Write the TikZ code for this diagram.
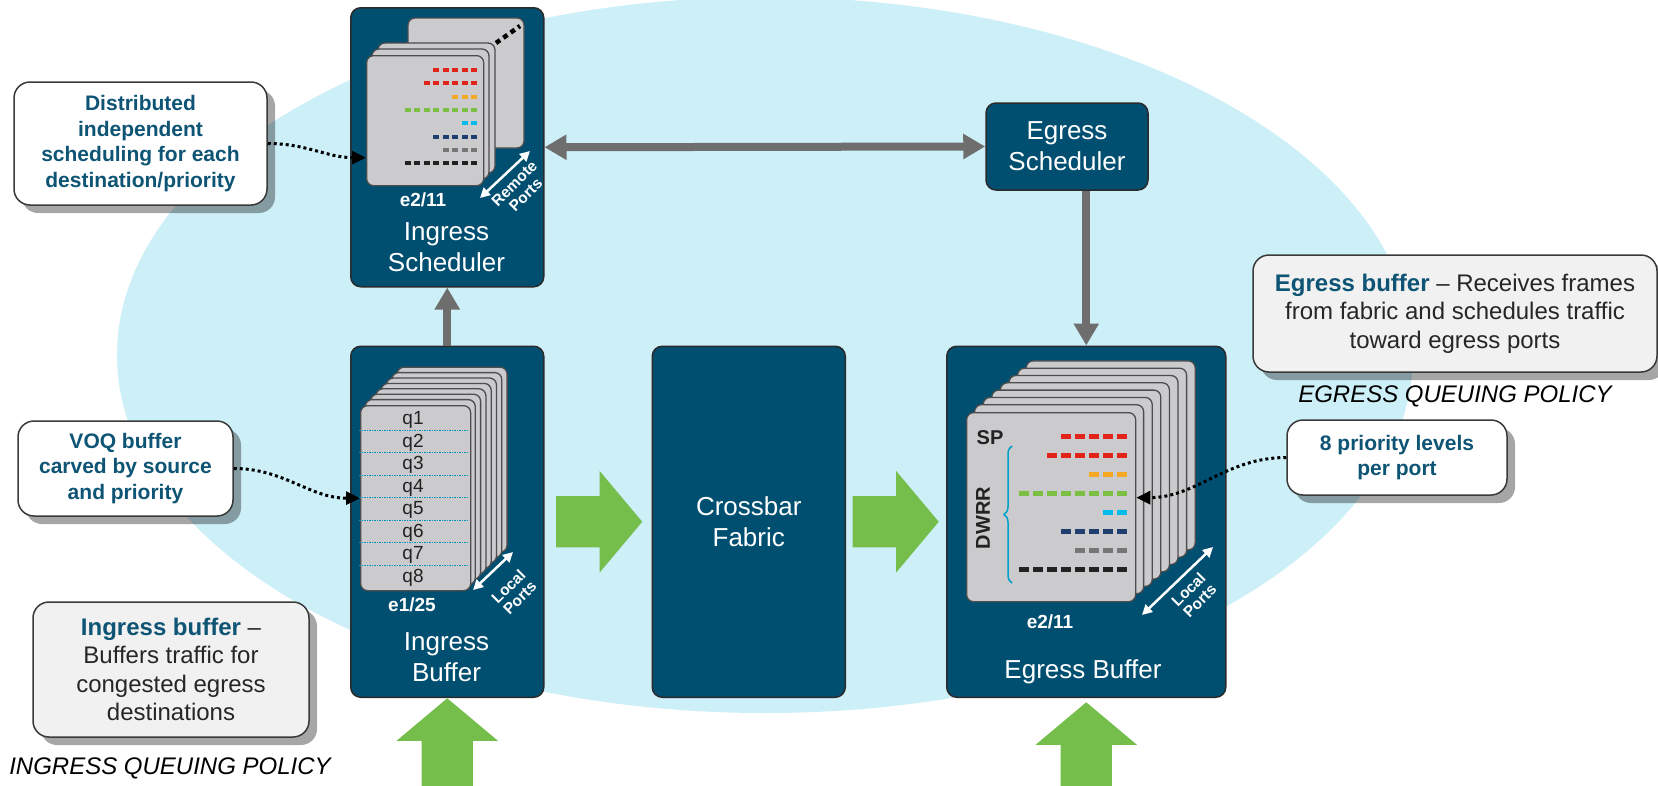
\documentclass[tikz,border=0pt]{standalone}
\usepackage{fontspec}
\setmainfont{Liberation Sans}
\usetikzlibrary{calc,positioning,arrows.meta,shapes.arrows,shadows,decorations.pathreplacing}

\definecolor{skyblue}{HTML}{CCEFF8}
\definecolor{boxblue}{HTML}{004F71}
\definecolor{boxline}{HTML}{2B2B2B}
\definecolor{cardgray}{HTML}{CBCBCE}
\definecolor{cardline}{HTML}{4D4D4D}
\definecolor{pipegray}{HTML}{6E6E6E}
\definecolor{flowgreen}{RGB}{118,190,75}
\definecolor{noteblue}{HTML}{0E5474}
\definecolor{noteline}{HTML}{3A3A3A}
\definecolor{notegray}{HTML}{F1F1F1}
\definecolor{notetext}{HTML}{262626}
\definecolor{dred}{HTML}{E2231A}
\definecolor{dorange}{HTML}{F7A823}
\definecolor{dgreen}{HTML}{7CC043}
\definecolor{dcyan}{HTML}{00BCEB}
\definecolor{dnavy}{HTML}{1F3F6F}
\definecolor{dgray}{HTML}{767676}
\definecolor{dblack}{HTML}{222222}

\begin{document}
\begin{tikzpicture}[x=1pt,y=-1pt,
    blk/.style={draw=boxline,line width=1.5pt,fill=boxblue,rounded corners=10pt,inner sep=0pt},
    card/.style={draw=cardline,line width=1.3pt,fill=cardgray,rounded corners=7pt,inner sep=0pt},
    lbl/.style={text=white,font=\fontsize{26}{31}\selectfont,align=center},
    tag/.style={text=white,font=\bfseries\fontsize{19}{22}\selectfont},
    ports/.style={text=white,font=\bfseries\fontsize{15.5}{16}\selectfont,align=center,rotate=45},
    portarrow/.style={white,line width=2.5pt,>={Triangle[length=10pt,width=10pt]}},
    qtext/.style={text=dblack,font=\fontsize{19}{22}\selectfont},
    sep/.style={dcyan!80!black,line width=.8pt,dash pattern=on 1.5pt off 1pt},
    dark/.style={text=dblack,font=\bfseries\fontsize{20}{22}\selectfont},
    note/.style={draw=noteline,line width=1.5pt,fill=white,rounded corners=16pt,align=center,
        text=noteblue,font=\bfseries\fontsize{21}{25.5}\selectfont,
        drop shadow={shadow xshift=8pt,shadow yshift=-8pt,opacity=.35,fill=black}},
    gnote/.style={note,fill=notegray,text=notetext,font=\fontsize{24}{28.5}\selectfont},
    policy/.style={font=\itshape\fontsize{24}{28}\selectfont},
    pipe/.style={draw=pipegray,line width=8pt,>={Triangle[length=22pt,width=24pt]}},
    hint/.style={line width=3pt,dash pattern=on 3pt off 3pt,->,>={Triangle[length=14pt,width=13pt]}},
    flow/.style={single arrow,fill=flowgreen,draw=none,inner xsep=0pt,inner ysep=25.5pt,anchor=tip,
        minimum width=101pt,single arrow head extend=25pt,single arrow tip angle=100}]

    \useasboundingbox (0,0) rectangle (1658,785);
    \clip (0,0) rectangle (1658,785);
    \fill[white] (0,0) rectangle (1658,785);
    \fill[skyblue] (765,355) ellipse [x radius=648pt,y radius=358pt];

    \node[blk,minimum width=193pt,minimum height=279pt,anchor=north west] (isched) at (350,7) {};
    \node[blk,minimum width=193pt,minimum height=351pt] (inbuf) [below=58pt of isched] {};
    \node[blk,minimum width=193pt,minimum height=351pt] (xbar) [right=107pt of inbuf] {};
    \node[blk,minimum width=279pt,minimum height=351pt] (ebuf) [right=100pt of xbar] {};
    \node[blk,minimum width=162pt,minimum height=87pt] (esched) at (1067,146.5) {};

    % scheduler cards
    \draw[card] (408,18) rectangle (524,148);
    \draw[line width=4.5pt,dash pattern=on 5pt off 4pt] (496,43) -- (520,26);
    \foreach \i in {2,1}
        \draw[card] ({366+6*\i},{55-6*\i}) rectangle ++(117,130);
    \node[card,minimum width=117pt,minimum height=130pt,anchor=north west] (scard) at (366,55) {};
    \foreach \c/\n [count=\r from 0] in {dred/5,dred/6,dorange/3,dgreen/8,dcyan/2,dnavy/5,dgray/4,dblack/8}
        \foreach \k in {1,...,\n}
            \fill[\c] ({477-(\k-1)*9.5-6},{70+\r*13.3-2}) rectangle ++(6,4);
    \draw[portarrow,<->] (480,198) -- (530,151);
    \node[ports] (rports) at (520,189) {Remote\\Ports};
    \node[tag] (stag) at (423,200) {e2/11};
    \node[lbl] (stitle) at (446.5,247.5) {Ingress\\Scheduler};

    % ingress buffer cards
    \foreach \i in {7,...,1}
        \draw[card] ({360+5.3*\i},{405-5.4*\i}) rectangle ++(110,185);
    \node[card,minimum width=110pt,minimum height=185pt,anchor=north west] (qcard) at (360,405) {};
    \foreach \k in {1,...,7}
        \draw[sep] (359,{430+22.5*(\k-1)}) -- (469,{430+22.5*(\k-1)});
    \foreach \k in {1,...,8}
        \node[qtext] (q\k) at (413,{420+22.5*(\k-1)}) {q\k};
    \draw[portarrow,<->] (473,590) -- (513,552);
    \node[ports] (lports) at (514,592) {Local\\Ports};
    \node[tag] (itag) at (412,605) {e1/25};
    \node[lbl] (ititle) at (446.5,657) {Ingress\\Buffer};

    \node[lbl] (xtitle) at (xbar) {Crossbar\\Fabric};
    \node[lbl] (etitle) at (esched) {Egress\\Scheduler};

    % egress buffer cards
    \foreach \i in {7,...,1}
        \draw[card] ({966+8.6*\i},{412-7.3*\i}) rectangle ++(169,189);
    \node[card,minimum width=169pt,minimum height=189pt,anchor=north west] (ecard) at (966,412) {};
    \foreach \c/\n [count=\r from 0] in {dred/5,dred/6,dorange/3,dgreen/8,dcyan/2,dnavy/5,dgray/4,dblack/8}
        \foreach \k in {1,...,\n}
            \fill[\c] ({1127-(\k-1)*14-10},{436+\r*19.1-2.5}) rectangle ++(10,5);
    \node[dark] (sp) at (990,438) {SP};
    \node[dark,rotate=90] (dwrr) at (983,518) {DWRR};
    \draw[dcyan!85!black,line width=1.5pt,decorate,decoration={brace,amplitude=8pt}] (1012,583) -- (1012,446);
    \draw[portarrow,<->] (1142,615) -- (1213,547);
    \node[ports] (eports) at (1194,595) {Local\\Ports};
    \node[tag] (etag) at (1050,622) {e2/11};
    \node[lbl] (btitle) at (1083,672) {Egress Buffer};

    \node[flow,minimum height=86pt] (f1) at ([xshift=-9pt]xbar.west) {};
    \node[flow,minimum height=86pt] (f2) at ([xshift=-7pt]ebuf.west) {};
    \node[flow,minimum height=100pt,rotate=90] (f3) at (inbuf.south) {};
    \node[flow,minimum height=100pt,rotate=90] (f4) at ([yshift=-4pt]ebuf.south) {};

    \draw[pipe,->] (inbuf.north) -- (isched.south);
    \draw[pipe,<->] (isched.east) -- (esched.west);
    \draw[pipe,->] (esched.south -| ebuf.north) -- (ebuf.north);

    \node[note,minimum width=253pt,minimum height=123pt] (dnote) at (140.5,143.5)
        {Distributed\\independent\\scheduling for each\\destination/priority};
    \node[note,minimum width=215pt,minimum height=95pt] (vnote) at (125.5,468.5)
        {VOQ buffer\\carved by source\\and priority};
    \node[note,minimum width=220pt,minimum height=75pt] (pnote) at (1397,457.5)
        {8 priority levels\\per port};
    \node[gnote,minimum width=404pt,minimum height=117pt] (enote) at (1455,313.5)
        {\textcolor{noteblue}{\bfseries Egress buffer} – Receives frames\\from fabric and schedules traffic\\toward egress ports};
    \node[gnote,minimum width=276pt,minimum height=135pt] (inote) at (171,669.5)
        {\textcolor{noteblue}{\bfseries Ingress buffer} –\\Buffers traffic for\\congested egress\\destinations};
    \node[policy] (epol) at (1455,396) {EGRESS QUEUING POLICY};
    \node[policy] (ipol) at (170,768) {INGRESS QUEUING POLICY};

    \draw[hint] (dnote.east) to[out=0,in=180] ([yshift=-37pt]scard.west);
    \draw[hint] (vnote.east) to[out=0,in=180] (qcard.west);
    \draw[hint] (pnote.west) to[out=180,in=0] ([yshift=9.5pt]ecard.east);
\end{tikzpicture}
\end{document}
